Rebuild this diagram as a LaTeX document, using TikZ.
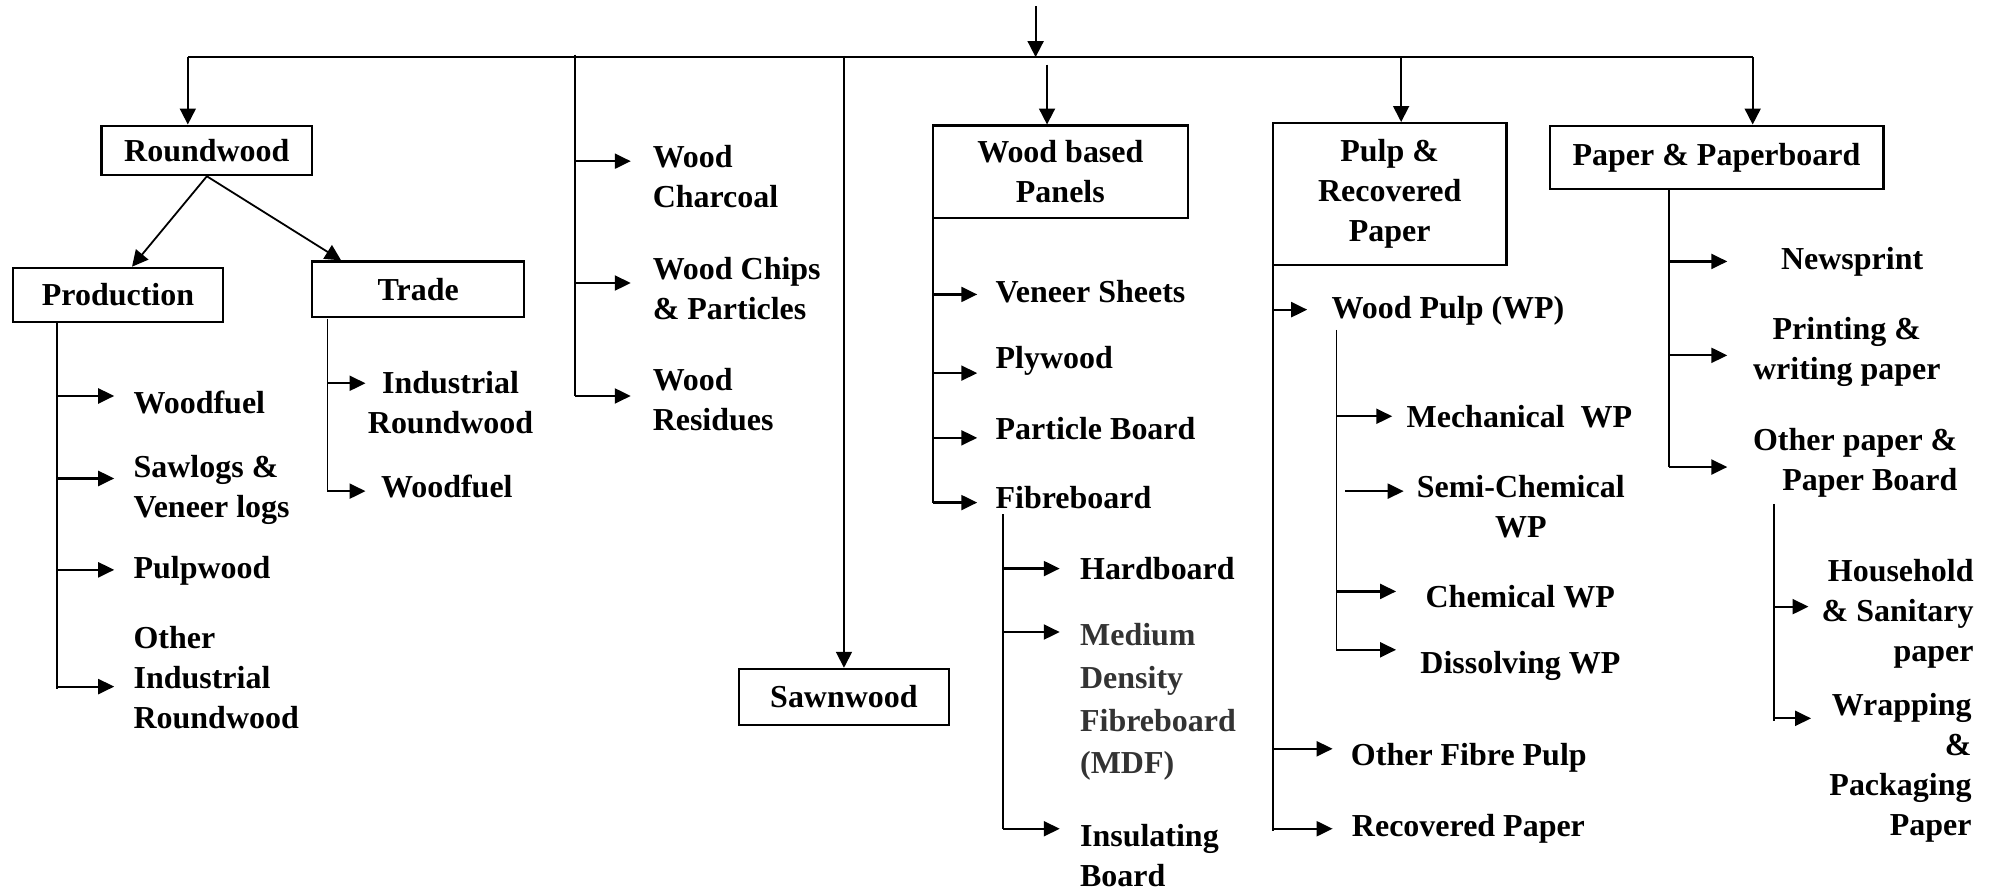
\documentclass[tikz,border=0pt]{standalone}
\usepackage{fontspec}
\setmainfont{Liberation Serif}
\usetikzlibrary{arrows.meta}
\tikzset{
	box/.style={draw,line width=1.1pt,font=\bfseries\fontsize{16}{20}\selectfont,align=center,inner sep=0pt},
	item/.style={font=\bfseries\fontsize{16}{20}\selectfont,anchor=west,align=left,inner ysep=0pt,inner xsep=9pt},
	conn/.style={line width=0.9pt},
	mainarrow/.style={line width=0.9pt,-{Triangle[length=8pt,width=8pt]}},
	branch/.style={line width=1.1pt,-{Triangle[length=8pt,width=7.5pt]}}
}
\begin{document}
\begin{tikzpicture}[x=0.635pt,y=-0.635pt]
			\useasboundingbox (0,0) rectangle (1568,703);
			% boxes
			\node[box,minimum width=105.4pt,minimum height=24.8pt] (roundwood) at (163,118.5) {Roundwood};
			\node[box,minimum width=105.4pt,minimum height=27.3pt] (production) at (93,232.5) {Production};
			\node[box,minimum width=106pt,minimum height=27.9pt] (trade) at (329.5,228) {Trade};
			\node[box,minimum width=105.4pt,minimum height=27.9pt] (sawnwood) at (665,549) {Sawnwood};
			\node[box,minimum width=127.6pt,minimum height=46.4pt] (panels) at (835.5,135.5) {Wood based\\Panels};
			\node[box,minimum width=116.8pt,minimum height=71.1pt] (pulp) at (1095,153) {Pulp \&\\Recovered\\Paper};
			\node[box,minimum width=167pt,minimum height=31.75pt] (paper) at (1352.5,124) {Paper \& Paperboard};
			% top bar
			\coordinate (top) at (816,5);
			\coordinate (hub) at (816,45);
			\coordinate (barL) at (148,45);
			\coordinate (barR) at (1381,45);
			\draw[conn] (barL) -- (barR);
			\draw[mainarrow] (top) -- (hub);
			\draw[mainarrow] (barL) -- (barL |- roundwood.north);
			\coordinate (sawTop) at (665,44);
			\draw[mainarrow] (sawTop) -- (sawnwood.north);
			\coordinate (panTop) at (825,51);
			\draw[mainarrow] (panTop) -- (panTop |- panels.north);
			\coordinate (pulpTop) at (1104,45);
			\draw[mainarrow] (pulpTop) -- (pulpTop |- pulp.north);
			\draw[mainarrow] (barR) -- (barR |- paper.north);
			\draw[mainarrow] (roundwood.south) -- ([xshift=7pt]production.north);
			\draw[mainarrow] (roundwood.south) -- ([xshift=15pt]trade.north west);
			% production
			\coordinate (prodA) at (45,254);
			\coordinate (prodB) at (45,543);
			\draw[conn] (prodA) -- (prodB);
			\node[item,inner xsep=9.5pt] (prodfuel) at (90,317) {Woodfuel};
			\node[item,inner xsep=9.5pt] (sawlogs) at (90,386) {Sawlogs \&\\Veneer logs};
			\node[item,inner xsep=9.5pt] (pulpwood) at (90,450) {Pulpwood};
			\node[item,inner xsep=9.5pt] (otherind) at (90,534) {Other\\Industrial\\Roundwood};
			\coordinate (p1) at (45,312); \coordinate (p2) at (45,377);
			\coordinate (p3) at (45,449); \coordinate (p4) at (45,541);
			\draw[branch] (p1) -- (p1 -| prodfuel.west);
			\draw[branch] (p2) -- (p2 -| sawlogs.west);
			\draw[branch] (p3) -- (p3 -| pulpwood.west);
			\draw[branch] (p4) -- (p4 -| otherind.west);
			% trade
			\coordinate (trA) at (258,251);
			\coordinate (trB) at (258,387);
			\draw[conn] (trA) -- (trB);
			\node[item,align=center,inner xsep=1pt] (indround) at (288,317) {Industrial\\Roundwood};
			\node[item,inner xsep=7.6pt] (tradefuel) at (288,383) {Woodfuel};
			\draw[branch] (258,302) coordinate (t1) -- (t1 -| indround.west);
			\draw[branch] (trB) -- (trB -| tradefuel.west);
			% residues
			\coordinate (resA) at (453,43);
			\coordinate (resB) at (453,312);
			\draw[conn] (resA) -- (resB);
			\node[item,inner xsep=10.8pt] (charcoal) at (497,139) {Wood\\Charcoal};
			\node[item,inner xsep=10.8pt] (chips) at (497,227) {Wood Chips\\\& Particles};
			\node[item,inner xsep=10.8pt] (residues) at (497,315) {Wood\\Residues};
			\coordinate (r1) at (453,127); \coordinate (r2) at (453,223);
			\draw[branch] (r1) -- (r1 -| charcoal.west);
			\draw[branch] (r2) -- (r2 -| chips.west);
			\draw[branch] (resB) -- (resB -| residues.west);
			% panels
			\coordinate (panA) at (735,172);
			\coordinate (panB) at (735,396);
			\draw[conn] (panA) -- (panB);
			\node[item] (veneer) at (770,230) {Veneer Sheets};
			\node[item] (plywood) at (770,284) {Plywood};
			\node[item] (particle) at (770,338) {Particle Board};
			\node[item] (fibre) at (770,392) {Fibreboard};
			\coordinate (w1) at (735,232); \coordinate (w2) at (735,294);
			\coordinate (w3) at (735,345);
			\draw[branch] (w1) -- (w1 -| veneer.west);
			\draw[branch] (w2) -- (w2 -| plywood.west);
			\draw[branch] (w3) -- (w3 -| particle.west);
			\draw[branch] (panB) -- (panB -| fibre.west);
			% fibreboard
			\coordinate (fibA) at (790,405);
			\coordinate (fibB) at (790,653);
			\draw[conn] (fibA) -- (fibB);
			\node[item,inner xsep=10pt] (hardboard) at (835,448) {Hardboard};
			\node[item,inner xsep=10pt,text=black!80,font=\bfseries\fontsize{16}{21.5}\selectfont] (mdf) at (835,553) {Medium\\Density\\Fibreboard\\(MDF)};
			\node[item,inner xsep=10pt] (insulating) at (835,674.5) {Insulating\\Board};
			\coordinate (f1) at (790,448); \coordinate (f2) at (790,498);
			\draw[branch] (f1) -- (f1 -| hardboard.west);
			\draw[branch] (f2) -- (f2 -| mdf.west);
			\draw[branch] (fibB) -- (fibB -| insulating.west);
			% pulp
			\coordinate (plA) at (1003,209);
			\coordinate (plB) at (1003,655);
			\draw[conn] (plA) -- (plB);
			\node[item,inner xsep=12pt] (woodpulp) at (1030,245) {Wood Pulp (WP)};
			\node[item] (otherfibre) at (1050,597) {Other Fibre Pulp};
			\node[item,inner xsep=9.5pt] (recovered) at (1050,653) {Recovered Paper};
			\coordinate (q1) at (1003,244); \coordinate (q2) at (1003,590);
			\coordinate (q3) at (1003,653);
			\draw[branch] (q1) -- (q1 -| woodpulp.west);
			\draw[branch] (q2) -- (q2 -| otherfibre.west);
			\draw[branch] (q3) -- (q3 -| recovered.west);
			% wood pulp
			\coordinate (wpA) at (1053,260);
			\coordinate (wpB) at (1053,512);
			\draw[conn] (wpA) -- (wpB);
			\node[item,inner xsep=7pt] (mechanical) at (1097,328) {Mechanical~~WP};
			\node[item,align=center,inner xsep=6.4pt] (semichem) at (1106,399.5) {Semi-Chemical\\WP};
			\node[item,inner xsep=14.6pt] (chemical) at (1100,470) {Chemical WP};
			\node[item,inner xsep=12pt] (dissolving) at (1100,525) {Dissolving WP};
			\coordinate (m1) at (1053,328); \coordinate (m2) at (1060,387);
			\coordinate (m3) at (1053,466);
			\draw[branch] (m1) -- (m1 -| mechanical.west);
			\draw[branch] (m2) -- (m2 -| semichem.west);
			\draw[branch] (m3) -- (m3 -| chemical.west);
			\draw[branch] (wpB) -- (wpB -| dissolving.west);
			% paper
			\coordinate (ppA) at (1315,149);
			\coordinate (ppB) at (1315,368);
			\draw[conn] (ppA) -- (ppB);
			\node[item,inner xsep=26.7pt] (newsprint) at (1361,206) {Newsprint};
			\node[item,align=center,inner xsep=12.7pt] (printing) at (1361,277) {Printing \&\\writing paper};
			\node[item,align=right,inner xsep=12.7pt] (otherpaper) at (1361,365) {Other paper \&\\Paper Board};
			\coordinate (n1) at (1315,206); \coordinate (n2) at (1315,280);
			\draw[branch] (n1) -- (n1 -| newsprint.west);
			\draw[branch] (n2) -- (n2 -| printing.west);
			\draw[branch] (ppB) -- (ppB -| otherpaper.west);
			% other paper
			\coordinate (opA) at (1398,397);
			\coordinate (opB) at (1398,568);
			\draw[conn] (opA) -- (opB);
			\node[item,align=right,inner xsep=6.4pt] (household) at (1425,483.5) {Household\\\& Sanitary\\paper};
			\node[item,align=right] (wrapping) at (1427,605) {Wrapping\\\&\\Packaging\\Paper};
			\coordinate (h1) at (1398,478); \coordinate (h2) at (1398,566);
			\draw[branch] (h1) -- (h1 -| household.west);
			\draw[branch] (h2) -- (h2 -| wrapping.west);
		\end{tikzpicture}
\end{document}
